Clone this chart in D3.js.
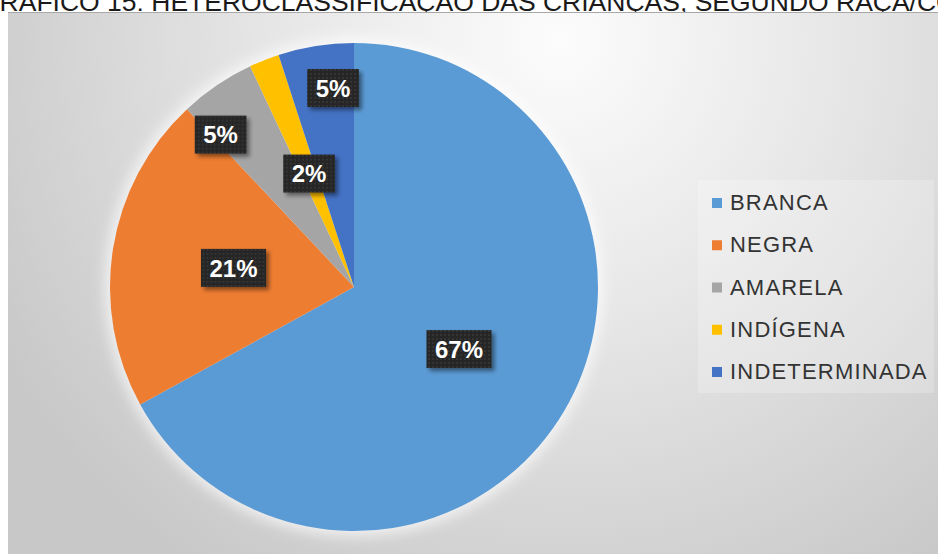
<!DOCTYPE html>
<html>
<head>
<meta charset="utf-8">
<script src="https://cdn.jsdelivr.net/npm/d3@7"></script>
<style>
  html, body { margin: 0; padding: 0; background: #ffffff; overflow: hidden; }
  svg { display: block; font-family: "Liberation Sans", Arial, sans-serif; }
</style>
</head>
<body>
<svg id="chart" width="938" height="554"></svg>
<script>
// Heteroclassificação das crianças por raça/cor
const title = "GRÁFICO 15: HETEROCLASSIFICAÇÃO DAS CRIANÇAS, SEGUNDO RAÇA/COR";
const categories = ["BRANCA", "NEGRA", "AMARELA", "INDÍGENA", "INDETERMINADA"];
const values = [67, 21, 5, 2, 5];
const colors = ["#5b9bd5", "#ed7d31", "#a5a5a5", "#ffc000", "#4472c4"];
// label placement: fraction of radius, and angular nudge (degrees) for crowded slices
const labelRadius = [0.5, 0.5, 0.83, 0.5, 0.82];
const labelTurn = [0, 0, -7, 0, 3];

const W = 938, H = 554;
const svg = d3.select("#chart");
const defs = svg.append("defs");

// chart area background: soft radial gradient
const bg = defs.append("radialGradient").attr("id", "bgGrad")
  .attr("gradientUnits", "userSpaceOnUse")
  .attr("cx", 560).attr("cy", 40).attr("r", 640);
bg.append("stop").attr("offset", "0%").attr("stop-color", "#fcfcfc");
bg.append("stop").attr("offset", "45%").attr("stop-color", "#e6e6e6");
bg.append("stop").attr("offset", "100%").attr("stop-color", "#c8c8c8");

// dotted dark texture for data labels
const pat = defs.append("pattern").attr("id", "dots")
  .attr("patternUnits", "userSpaceOnUse").attr("width", 4).attr("height", 4);
pat.append("rect").attr("width", 4).attr("height", 4).attr("fill", "#262626");
pat.append("circle").attr("cx", 2).attr("cy", 2).attr("r", 0.8).attr("fill", "#454545");

const shadow = defs.append("filter").attr("id", "lblShadow")
  .attr("x", "-30%").attr("y", "-30%").attr("width", "160%").attr("height", "160%");
shadow.append("feDropShadow").attr("dx", 3).attr("dy", 3)
  .attr("stdDeviation", 2).attr("flood-color", "#000").attr("flood-opacity", 0.45);

const glow = defs.append("filter").attr("id", "pieGlow")
  .attr("x", "-20%").attr("y", "-20%").attr("width", "140%").attr("height", "140%");
glow.append("feGaussianBlur").attr("stdDeviation", 7);

// title (partly above the visible page)
svg.append("text")
  .attr("x", -21).attr("y", 11)
  .attr("font-size", 26.5).attr("fill", "#1a1a1a")
  .text(title);

// chart area
const area = { x: 8, y: 13, w: W - 8, h: H - 13 };
svg.append("rect")
  .attr("x", area.x).attr("y", area.y).attr("width", area.w).attr("height", area.h)
  .attr("fill", "url(#bgGrad)");
svg.append("line")
  .attr("x1", area.x).attr("x2", W).attr("y1", 12.5).attr("y2", 12.5)
  .attr("stroke", "#a8a8a8").attr("stroke-width", 1.2);

// pie
const cx = 354, cy = 287, R = 244;
const pie = d3.pie().sort(null).value(d => d)(values);
const arc = d3.arc().innerRadius(0).outerRadius(R);

const g = svg.append("g").attr("transform", `translate(${cx},${cy})`);
g.append("circle").attr("r", R + 5).attr("fill", "#ffffff").attr("opacity", 0.7)
  .attr("filter", "url(#pieGlow)");
g.selectAll("path.slice").data(pie).join("path")
  .attr("class", "slice")
  .attr("d", arc)
  .attr("fill", (d, i) => colors[i]);

// data labels
const lbl = g.selectAll("g.lbl").data(pie).join("g").attr("class", "lbl")
  .attr("transform", (d, i) => {
    const a = (d.startAngle + d.endAngle) / 2 + labelTurn[i] * Math.PI / 180;
    const r = R * labelRadius[i];
    return `translate(${r * Math.sin(a)},${-r * Math.cos(a)})`;
  });
lbl.append("rect").attr("fill", "url(#dots)").attr("filter", "url(#lblShadow)");
const txt = lbl.append("text")
  .attr("text-anchor", "middle").attr("dy", "0.36em")
  .attr("font-size", 24).attr("font-weight", "bold").attr("fill", "#ffffff")
  .text(d => d.data + "%");
txt.each(function () {
  const w = this.getComputedTextLength() + 17;
  d3.select(this.parentNode).select("rect")
    .attr("x", -w / 2).attr("y", -19).attr("width", w).attr("height", 38);
});

// legend
const legend = svg.append("g");
legend.append("rect")
  .attr("x", 698).attr("y", 180).attr("width", 236).attr("height", 213)
  .attr("fill", "#ffffff").attr("opacity", 0.22);
const rowY = d3.scalePoint().domain(categories).range([210, 379]);
const item = legend.selectAll("g.item").data(categories).join("g").attr("class", "item")
  .attr("transform", d => `translate(712,${rowY(d)})`);
item.append("rect").attr("x", 0).attr("y", -12).attr("width", 10).attr("height", 10)
  .attr("fill", (d, i) => colors[i]);
item.append("text").attr("x", 18).attr("y", 0)
  .attr("font-size", 22).attr("letter-spacing", 1.2).attr("fill", "#333333")
  .text(d => d);
</script>
</body>
</html>
